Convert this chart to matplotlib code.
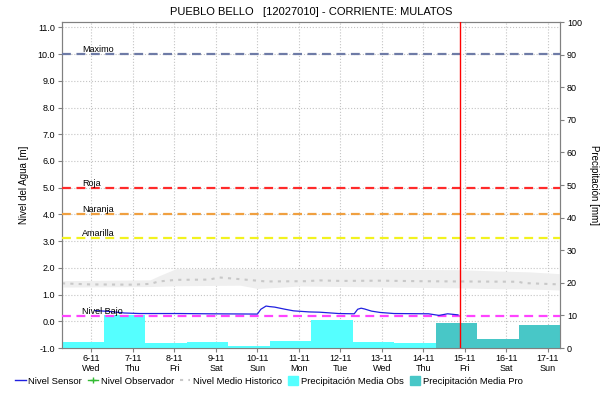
import numpy as np
import pandas as pd
import matplotlib
matplotlib.use("Agg")
import matplotlib.pyplot as plt
from matplotlib.lines import Line2D
from matplotlib.patches import Patch

plt.rcParams['font.family'] = ['Liberation Sans', 'DejaVu Sans']

# reference time: 6-11 00:00 (hours are offsets from it)
t0 = pd.Timestamp("2019-11-06 00:00")

# sensor level [m]
sensor_h = [2, 10, 19, 28, 51, 68, 96, 98, 101, 103, 106, 112, 117, 126, 132, 143,
            152, 154, 156, 158, 162, 167, 175, 195, 201, 206, 212]
sensor_v = [0.40, 0.37, 0.31, 0.29, 0.29, 0.28, 0.27, 0.45, 0.57, 0.55, 0.53, 0.45,
            0.39, 0.35, 0.34, 0.29, 0.28, 0.45, 0.49, 0.46, 0.38, 0.33, 0.29, 0.28,
            0.22, 0.28, 0.24]

# historic mean level and band [m]
medio_h = [-17, -1, 24, 34, 39, 49, 68, 74, 87, 101, 124, 132, 144, 167, 190, 213, 247, 250, 271]
medio_v = [1.42, 1.38, 1.37, 1.40, 1.49, 1.55, 1.56, 1.64, 1.57, 1.49, 1.50, 1.53,
           1.51, 1.52, 1.50, 1.49, 1.48, 1.43, 1.38]
band_h = [-17, 34, 39, 49, 86, 96, 108, 120, 213, 235, 253, 271]
band_top = [1.52, 1.55, 1.70, 1.97, 1.97, 1.96, 1.96, 1.96, 1.93, 1.88, 1.85, 1.78]
band_low = [1.28, 1.30, 1.31, 1.33, 1.35, 1.23, 1.27, 1.32, 1.25, 1.22, 1.21, 1.17]

# daily precipitation [mm], days start 07:00, from 5-11
precip_start = pd.date_range("2019-11-05 07:00", periods=12, freq="D")
precip = [1.7, 10.2, 1.5, 1.7, 0.5, 2.0, 8.5, 1.7, 1.4, 7.6, 2.7, 7.0]
n_obs = 9

# thresholds [m]
umbral_names = ["Maximo", "Roja", "Naranja", "Amarilla", "Nivel Bajo"]
umbral_vals = [10.0, 5.0, 4.0, 3.1, 0.2]
umbral_colors = ["#6e7ba6", "#ff2a2a", "#f0a040", "#f2f21e", "#ff44ff"]

now = t0 + pd.Timedelta(hours=213)
dias = ["Wed", "Thu", "Fri", "Sat", "Sun", "Mon", "Tue", "Wed", "Thu", "Fri", "Sat", "Sun"]

def to_t(hours):
    return [t0 + pd.Timedelta(hours=h) for h in hours]

fig = plt.figure(figsize=(6.01, 4.03), dpi=100)
ax = fig.add_axes([62 / 601, 55 / 403, 498 / 601, 326 / 403])
ax2 = ax.twinx()
ax.set_zorder(ax2.get_zorder() + 1)
ax.patch.set_visible(False)

# precipitation bars on the right scale
obs_c = "#55ffff"
pro_c = "#48c7c7"
colors = [obs_c] * n_obs + [pro_c] * (len(precip) - n_obs)
ax.bar(precip_start, precip, width=1.0, align="edge", color=colors,
       transform=ax2.transData, zorder=1)

# historic band + mean
ax.fill_between(to_t(band_h), band_low, band_top, color="#efefef", lw=0, zorder=1.5)
ax.plot(to_t(medio_h), medio_v, color="#c8c8c8", ls=(0, (1.5, 2.5)), lw=1.5, zorder=2)

for name, v, c in zip(umbral_names, umbral_vals, umbral_colors):
    ax.axhline(v, color=c, ls=(0, (4, 2.5)), lw=1.6, zorder=3)
    ax.text(t0 + pd.Timedelta(hours=-5.5), v, name, fontsize=6.5, va="bottom", ha="left", zorder=5)

ax.plot(to_t(sensor_h), sensor_v, color="#2020e0", lw=0.9, zorder=4)
ax.axvline(now, color="red", lw=1, zorder=4)

xmin = pd.Timestamp("2019-11-05 07:00")
xmax = pd.Timestamp("2019-11-17 07:00")
ax.set_xlim(xmin, xmax)
ax.set_ylim(-1.0, 11.2)
ax2.set_ylim(0, 100)

ticks = pd.date_range("2019-11-06", "2019-11-17", freq="D")
ax.set_xticks(ticks)
ax.set_xticklabels([f"{t.day}-11\n{d}" for t, d in zip(ticks, dias)], linespacing=1.05)
ax.set_yticks(np.arange(-1, 11.5, 1.0))
ax.set_yticklabels([f"{v:.1f}" for v in np.arange(-1, 11.5, 1.0)])
ax2.set_yticks(np.arange(0, 101, 10))

ax.grid(True, color="#c4c4c4", ls=":", lw=0.8)
ax.set_axisbelow(True)

for a in (ax, ax2):
    for s in a.spines.values():
        s.set_color("#808080")
    a.tick_params(labelsize=6.5, length=3, color="#808080", pad=2)
ax.tick_params(axis="x", pad=1.5)

ax.set_ylabel("Nivel del Agua [m]", fontsize=7, labelpad=6)
ax2.set_ylabel("Precipitación [mm]", fontsize=7, rotation=270, labelpad=12)
ax.set_title("PUEBLO BELLO   [12027010] - CORRIENTE: MULATOS", fontsize=8, pad=5)

handles = [
    Line2D([], [], color="#2020e0", lw=1),
    Line2D([], [], color="#33bb33", lw=1, marker="+", markersize=4),
    Line2D([], [], color="#c8c8c8", lw=1.5, ls=(0, (1.5, 2.5))),
    Patch(color=obs_c),
    Patch(color=pro_c),
]
labels = ["Nivel Sensor", "Nivel Observador", "Nivel Medio Historico",
          "Precipitación Media Obs", "Precipitación Media Pro"]
fig.legend(handles, labels, loc="center", bbox_to_anchor=(269 / 601, 1 - 381 / 403), ncol=5,
           frameon=False, fontsize=6.8, handlelength=1.1, handletextpad=0.3,
           columnspacing=0.6, handleheight=1.0, borderpad=0.1)

fig.savefig("out.png", dpi=100)
